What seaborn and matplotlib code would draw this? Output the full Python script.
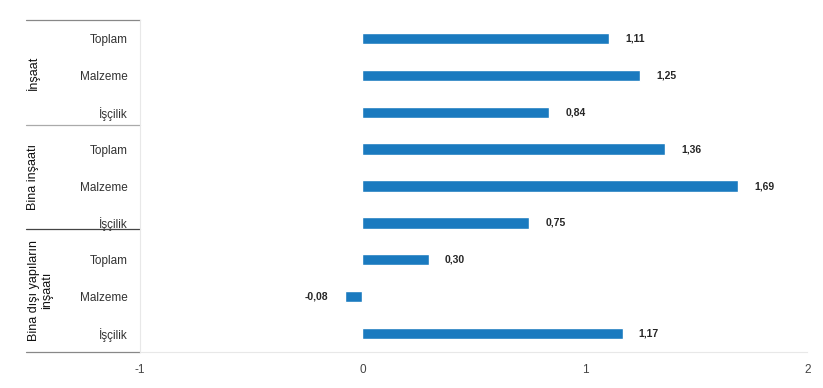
import pandas as pd
import matplotlib
matplotlib.use('Agg')
import matplotlib.pyplot as plt
import matplotlib.transforms as mtransforms
import seaborn as sns

# Data
gruplar = ['İnşaat', 'Bina inşaatı', 'Bina dışı yapıların\ninşaatı']
kalemler = ['Toplam', 'Malzeme', 'İşçilik']
degerler = [1.11, 1.25, 0.84,
            1.36, 1.69, 0.75,
            0.30, -0.08, 1.17]
x_ticks = [-1, 0, 1, 2]

rows = []
for i, g in enumerate(gruplar):
    for j, k in enumerate(kalemler):
        rows.append({'key': f'{i}-{j}', 'grup': g, 'kalem': k,
                     'deger': degerler[i * 3 + j]})
df = pd.DataFrame(rows)

sns.set_style('white')
plt.rcParams['font.family'] = ['Liberation Sans', 'DejaVu Sans']

fig = plt.figure(figsize=(8.23, 3.88), dpi=100)
ax = fig.add_axes([0.170, 0.093, 0.811, 0.855])

sns.barplot(data=df, x='deger', y='key', orient='h', color='#1a7abf',
            width=0.31, saturation=1, ax=ax)

ax.set_xlim(-1, 2)
ax.set_ylim(len(df) - 0.5, -0.5)
ax.set_xticks(x_ticks)
ax.set_xticklabels([str(t) for t in x_ticks], fontsize=8.5, color='#444444')
ax.set_yticks(range(len(df)))
ax.set_yticklabels(df['kalem'], fontsize=8.5, color='#333333')
ax.tick_params(axis='y', length=0, pad=9)
ax.tick_params(axis='x', length=0, pad=9)
ax.set_xlabel('')
ax.set_ylabel('')

for s in ['top', 'right']:
    ax.spines[s].set_visible(False)
ax.spines['left'].set_color('#e8e8e8')
ax.spines['bottom'].set_color('#e8e8e8')

# value labels
for i, v in enumerate(df['deger']):
    txt = f'{v:.2f}'.replace('.', ',')
    if v >= 0:
        ax.annotate(txt, (v, i), xytext=(11.5, 0), textcoords='offset points',
                    ha='left', va='center', fontsize=7.5, fontweight='bold')
    else:
        ax.annotate(txt, (v, i), xytext=(-11.5, 0), textcoords='offset points',
                    ha='right', va='center', fontsize=7.5, fontweight='bold')

# group separators and group labels
trans = mtransforms.blended_transform_factory(ax.transAxes, ax.transData)
sinirlar = [-0.5, 2.35, 5.17, 8.5]
renkler = ['#888888', '#aaaaaa', '#444444', '#888888']
for b, c in zip(sinirlar, renkler):
    ax.plot([-0.171, 0], [b, b], transform=trans, color=c,
            lw=0.9, clip_on=False)
etiket_x = [-0.16, -0.16, -0.149]
for i, g in enumerate(gruplar):
    orta = (sinirlar[i] + sinirlar[i + 1]) / 2
    ax.text(etiket_x[i], orta, g, transform=trans, rotation=90,
            ha='center', va='center', fontsize=9, color='#111111',
            linespacing=1.05, multialignment='center')

fig.savefig('out.png', dpi=100)
